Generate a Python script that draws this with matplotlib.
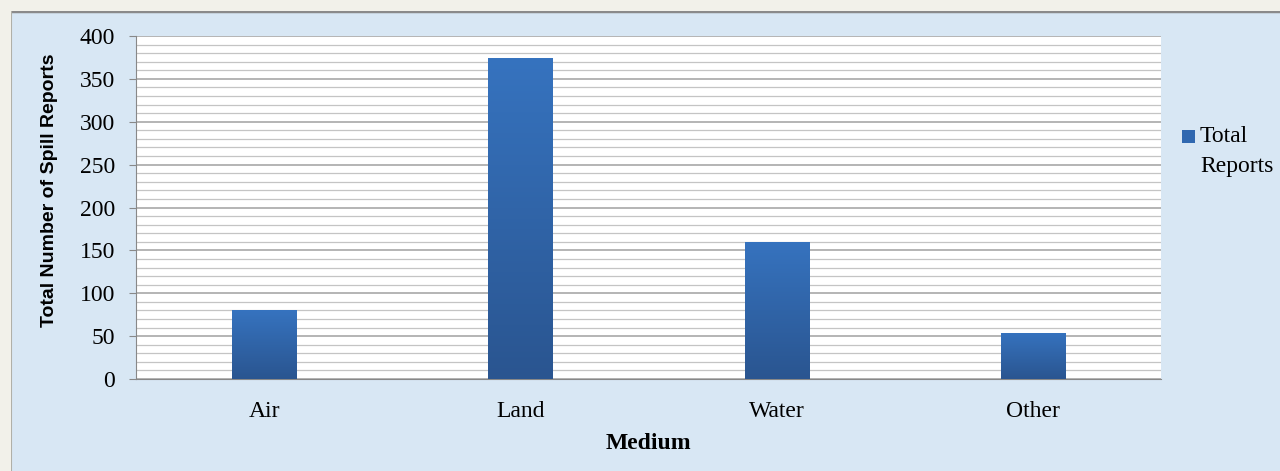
import matplotlib
matplotlib.use("Agg")
import matplotlib.pyplot as plt
import numpy as np
from matplotlib.patches import Rectangle
from matplotlib.ticker import MultipleLocator
from matplotlib.colors import LinearSegmentedColormap

categories = ["Air", "Land", "Water", "Other"]
values = [80, 374, 160, 54]
series_name = "Total Reports"
yticks = [0, 50, 100, 150, 200, 250, 300, 350, 400]

W, H = 1280, 471
fig = plt.figure(figsize=(W / 100, H / 100), dpi=100)
fig.patch.set_facecolor("#f2f1ea")

# blue panel
panel = fig.add_axes([11 / W, 0, 1 - 11 / W, 1 - 11 / H])
panel.set_xlim(0, 1); panel.set_ylim(0, 1)
panel.axis("off")
panel.add_patch(Rectangle((0, 0), 1, 1, facecolor="#d8e7f4", edgecolor="none"))
panel.plot([0, 1], [1, 1], color="#8a8a8a", lw=2.5, transform=panel.transAxes)
panel.plot([0, 0], [0, 1], color="#b0b0a8", lw=1.5, transform=panel.transAxes)

left, right, top, bottom = 136, 1161, 36, 379
ax = fig.add_axes([left / W, 1 - bottom / H, (right - left) / W, (bottom - top) / H])
ax.set_facecolor("white")
x = np.arange(len(categories))

ax.yaxis.set_minor_locator(MultipleLocator(10))
ax.set_yticks(yticks)
ax.grid(axis="y", which="major", color="#a8a8a8", lw=1.2, zorder=0)
ax.grid(axis="y", which="minor", color="#c4c4c4", lw=0.9, zorder=0)

bars = ax.bar(x, values, width=0.25, color="#2f60a4", zorder=2, label=series_name)
grad = np.linspace(0, 1, 256).reshape(-1, 1)
cmap = LinearSegmentedColormap.from_list("g", ["#2a5590", "#3673bf"])
for b in bars:
    im = ax.imshow(grad, extent=[b.get_x(), b.get_x() + b.get_width(), 0, b.get_height()],
                   origin="lower", cmap=cmap, aspect="auto", zorder=3)
    im.set_clip_path(b)
ax.set_xlim(-0.5, len(categories) - 0.5)
ax.set_ylim(0, 400)

for s in ["top", "right"]:
    ax.spines[s].set_visible(False)
ax.spines["left"].set_color("#888888")
ax.spines["bottom"].set_color("#888888")
ax.tick_params(axis="y", which="major", length=5, color="#888888", labelsize=17, pad=10)
ax.tick_params(axis="y", which="minor", length=0)
ax.tick_params(axis="x", length=0, labelsize=17, pad=15.5)
ax.set_xticks(x)
ax.set_xticklabels(categories, family="Liberation Serif")
for t in ax.get_yticklabels():
    t.set_family("Liberation Serif")

ax.set_xlabel("Medium", family="Liberation Serif", fontweight="bold", fontsize=17, labelpad=8)
fig.text(50 / W, 1 - 190 / H, "Total Number of Spill Reports", family="Liberation Sans",
         fontweight="bold", fontsize=14, rotation=90, ha="center", va="center")

# legend
fig.patches.append(Rectangle((1182 / W, 1 - 143 / H), 13 / W, 13 / H, transform=fig.transFigure,
                             facecolor="#3068b0", edgecolor="none", figure=fig))
fig.text(1200 / W, 1 - 137 / H, "Total", family="Liberation Serif", fontsize=17, va="center", ha="left")
fig.text(1200 / W, 1 - 167 / H, "Reports", family="Liberation Serif", fontsize=17, va="center", ha="left")

fig.savefig("out.png", dpi=100, facecolor=fig.get_facecolor())
